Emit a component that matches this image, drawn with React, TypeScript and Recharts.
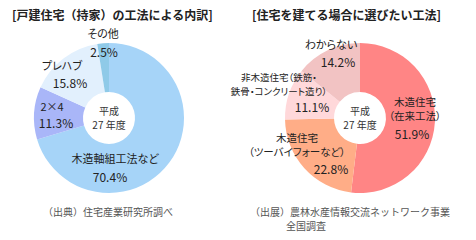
import React from "react";
import { PieChart, Pie, Cell } from "recharts";

const leftNames = ["木造軸組工法など", "2×4", "プレハブ", "その他"];
const leftValues = [70.4, 11.3, 15.8, 2.5];
const leftColors = ["#a6d4f8", "#a9b6f8", "#e2f0fd", "#8fcae8"];

const rightNames = ["木造住宅\n（在来工法）", "木造住宅\n（ツーバイフォーなど）", "非木造住宅（鉄筋・\n鉄骨・コンクリート造り）", "わからない"];
const rightValues = [51.9, 22.8, 11.1, 14.2];
const rightColors = ["#ff8585", "#ffad87", "#ffd8da", "#f2c3c3"];

const leftData = leftNames.map((name, i) => ({ name, value: leftValues[i] }));
const rightData = rightNames.map((name, i) => ({ name, value: rightValues[i] }));

// label placement relative to the pie centre: [nameX, nameY, pctX, pctY, lineGap, nameSize]
const leftLabelPos = [
    [6, 40, 1, 58, 13, 11],
    [-57, -12, -53, 4, 13, 11],
    [-47, -53, -39, -36, 13, 11],
    [-6, -85, -5, -67, 13, 11],
];
const rightLabelPos = [
    [55, -17, 52, 15, 14, 10.5],
    [-63, 19, -29, 50, 14, 10.5],
    [-81, -41, -48, -12, 14, 9.5],
    [-29, -74, -22, -57, 13, 11],
];

const font = "'Noto Sans CJK JP', 'Noto Sans', sans-serif";
const palt = { fontFeatureSettings: '"palt"' };

function makeLabel(pos: number[][]) {
    return (props: any) => {
        const { cx, cy, index, payload, value } = props;
        const p = pos[index];
        const lines = String(payload.name).split("\n");
        return (
            <g key={index}>
                {lines.map((ln, i) => (
                    <text
                        key={i}
                        x={cx + p[0]}
                        y={cy + p[1] + i * p[4]}
                        textAnchor="middle"
                        dominantBaseline="central"
                        fontSize={p[5]}
                        fill="#222"
                        fontFamily={font}
                        style={palt}
                    >
                        {ln}
                    </text>
                ))}
                <text
                    x={cx + p[2]}
                    y={cy + p[3]}
                    textAnchor="middle"
                    dominantBaseline="central"
                    fontSize={12}
                    fill="#222"
                    fontFamily={font}
                >
                    {value.toFixed(1)}%
                </text>
            </g>
        );
    };
}

const abs = (left: number, top: number, extra: React.CSSProperties = {}): React.CSSProperties => ({
    position: "absolute",
    left,
    top,
    fontFamily: font,
    whiteSpace: "nowrap",
    ...extra,
});

function CenterText({ x }: { x: number }) {
    return (
        <div style={abs(x - 30, 104, { width: 60, textAlign: "center", fontSize: 10, lineHeight: "14px", color: "#333" })}>
            平成
            <br />
            27 年度
        </div>
    );
}

export default function App() {
    return (
        <div style={{ position: "absolute", left: 0, top: 0, width: 476, height: 240, background: "#fff" }}>
            <PieChart width={476} height={240} margin={{ top: 0, right: 0, bottom: 0, left: 0 }}>
                <Pie
                    data={leftData}
                    dataKey="value"
                    cx={109}
                    cy={118}
                    innerRadius={26}
                    outerRadius={75}
                    startAngle={90}
                    endAngle={-270}
                    stroke="none"
                    labelLine={false}
                    label={makeLabel(leftLabelPos)}
                    isAnimationActive={false}
                >
                    {leftData.map((d, i) => (
                        <Cell key={d.name} fill={leftColors[i]} />
                    ))}
                </Pie>
                <Pie
                    data={rightData}
                    dataKey="value"
                    cx={360}
                    cy={118}
                    innerRadius={26}
                    outerRadius={75}
                    startAngle={90}
                    endAngle={-270}
                    stroke="none"
                    labelLine={false}
                    label={makeLabel(rightLabelPos)}
                    isAnimationActive={false}
                >
                    {rightData.map((d, i) => (
                        <Cell key={d.name} fill={rightColors[i]} />
                    ))}
                </Pie>
            </PieChart>
            <div style={abs(12, 7, { fontSize: 12, fontWeight: "bold", color: "#222", lineHeight: "16px" })}>[戸建住宅（持家）の工法による内訳]</div>
            <div style={abs(252, 7, { fontSize: 12, fontWeight: "bold", color: "#222", lineHeight: "16px" })}>[住宅を建てる場合に選びたい工法]</div>
            <CenterText x={109} />
            <CenterText x={360} />
            <div style={abs(43, 205, { fontSize: 10, color: "#555", lineHeight: "14px" })}>（出典）住宅産業研究所調べ</div>
            <div style={abs(250, 205, { fontSize: 10, color: "#555", lineHeight: "14px" })}>
                （出展）農林水産情報交流ネットワーク事業
                <br />
                <span style={{ paddingLeft: 36 }}>全国調査</span>
            </div>
        </div>
    );
}
